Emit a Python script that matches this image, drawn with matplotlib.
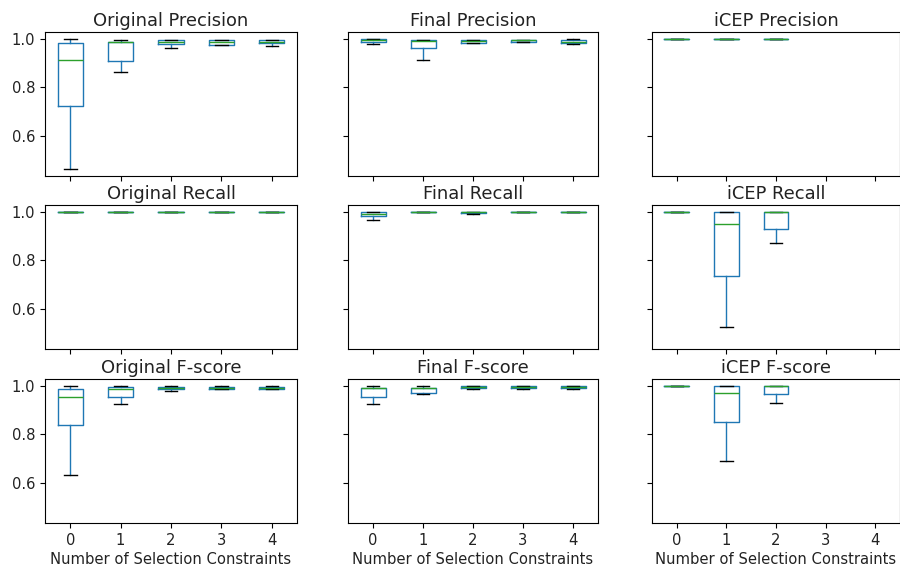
import matplotlib
matplotlib.use("Agg")
import matplotlib.pyplot as plt

# Number of selection constraints on the x axis
constraints = [0, 1, 2, 3, 4]

# Box statistics per constraint count: (whisker low, Q1, median, Q3, whisker high)
orig_precision = [
    (0.464, 0.725, 0.914, 0.982, 1.000),
    (0.863, 0.908, 0.985, 0.988, 0.995),
    (0.961, 0.976, 0.984, 0.993, 0.995),
    (0.972, 0.974, 0.985, 0.993, 0.995),
    (0.970, 0.981, 0.987, 0.995, 0.995),
]
final_precision = [
    (0.977, 0.987, 0.993, 0.999, 1.000),
    (0.913, 0.961, 0.991, 0.993, 0.993),
    (0.980, 0.980, 0.989, 0.995, 0.995),
    (0.984, 0.987, 0.993, 0.995, 0.995),
    (0.977, 0.980, 0.988, 0.996, 1.000),
]
icep_precision = [
    (1.000, 1.000, 1.000, 1.000, 1.000),
    (1.000, 1.000, 1.000, 1.000, 1.000),
    (1.000, 1.000, 1.000, 1.000, 1.000),
]
orig_recall = [
    (1.000, 1.000, 1.000, 1.000, 1.000),
    (1.000, 1.000, 1.000, 1.000, 1.000),
    (1.000, 1.000, 1.000, 1.000, 1.000),
    (1.000, 1.000, 1.000, 1.000, 1.000),
    (1.000, 1.000, 1.000, 1.000, 1.000),
]
final_recall = [
    (0.965, 0.981, 0.991, 0.999, 1.000),
    (1.000, 1.000, 1.000, 1.000, 1.000),
    (0.990, 0.993, 0.997, 1.000, 1.000),
    (1.000, 1.000, 1.000, 1.000, 1.000),
    (1.000, 1.000, 1.000, 1.000, 1.000),
]
icep_recall = [
    (1.000, 1.000, 1.000, 1.000, 1.000),
    (0.527, 0.735, 0.948, 1.000, 1.000),
    (0.873, 0.929, 1.000, 1.000, 1.000),
]
orig_fscore = [
    (0.633, 0.838, 0.952, 0.985, 1.000),
    (0.925, 0.952, 0.988, 0.993, 1.000),
    (0.976, 0.984, 0.990, 0.994, 1.000),
    (0.986, 0.987, 0.991, 0.994, 1.000),
    (0.986, 0.987, 0.991, 0.994, 1.000),
]
final_fscore = [
    (0.924, 0.955, 0.992, 0.992, 1.000),
    (0.966, 0.970, 0.991, 0.992, 1.000),
    (0.987, 0.989, 0.993, 0.997, 1.000),
    (0.987, 0.989, 0.993, 0.997, 1.000),
    (0.987, 0.989, 0.993, 0.997, 1.000),
]
icep_fscore = [
    (1.000, 1.000, 1.000, 1.000, 1.000),
    (0.690, 0.849, 0.969, 1.000, 1.000),
    (0.930, 0.964, 1.000, 1.000, 1.000),
]

panels = [
    [("Original Precision", orig_precision), ("Final Precision", final_precision), ("iCEP Precision", icep_precision)],
    [("Original Recall", orig_recall), ("Final Recall", final_recall), ("iCEP Recall", icep_recall)],
    [("Original F-score", orig_fscore), ("Final F-score", final_fscore), ("iCEP F-score", icep_fscore)],
]

W, H = 900, 572
fig = plt.figure(figsize=(W / 100, H / 100), dpi=100)

col_left = [45, 348, 652]
col_width = [252, 250, 248]
row_top = [32, 205, 379]
row_height = 144

blue = "#1f77b4"
green = "#2ca02c"

axes = []
first = None
for r in range(3):
    row_axes = []
    for c in range(3):
        rect = [col_left[c] / W, 1 - (row_top[r] + row_height) / H,
                col_width[c] / W, row_height / H]
        ax = fig.add_axes(rect, sharex=first, sharey=first)
        if first is None:
            first = ax
        title, data = panels[r][c]
        stats = [
            {"whislo": lo, "q1": q1, "med": med, "q3": q3, "whishi": hi, "fliers": []}
            for (lo, q1, med, q3, hi) in data
        ]
        ax.bxp(stats, positions=constraints[:len(stats)], widths=0.5,
               boxprops=dict(color=blue, linewidth=1.0),
               whiskerprops=dict(color=blue, linewidth=1.0),
               capprops=dict(color="black", linewidth=1.0),
               medianprops=dict(color=green, linewidth=1.0, zorder=3),
               showfliers=False, manage_ticks=False)
        ax.set_title(title, fontsize=12.9, pad=4, color="#222222")
        row_axes.append(ax)
    axes.append(row_axes)

first.set_xlim(-0.5, 4.5)
first.set_xticks(constraints)
first.set_xticklabels([str(v) for v in constraints])
first.set_ylim(0.437, 1.027)
first.set_yticks([0.6, 0.8, 1.0])

for r in range(3):
    for c in range(3):
        ax = axes[r][c]
        if r < 2:
            ax.tick_params(labelbottom=False)
        else:
            ax.set_xlabel("Number of Selection Constraints", fontsize=10.6,
                          color="#222222", labelpad=3)
        if c > 0:
            ax.tick_params(labelleft=False)
        ax.tick_params(labelsize=10.6, labelcolor="#222222")

fig.savefig("out.png", dpi=100)
